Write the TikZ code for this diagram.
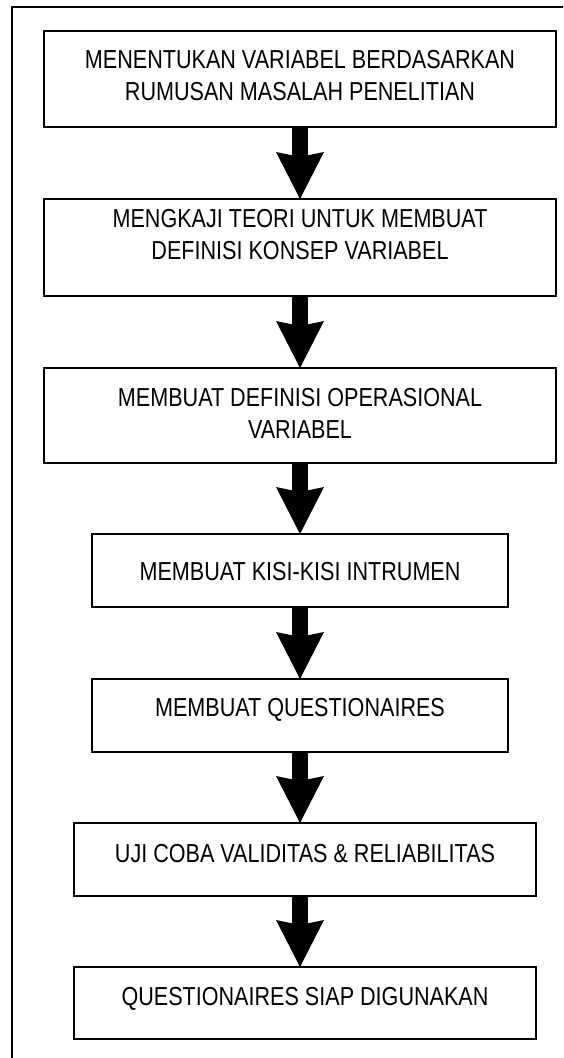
\documentclass[tikz,border=0pt]{standalone}
\usepackage{fontspec}
\setmainfont[FakeStretch=0.83]{Liberation Sans}
\usetikzlibrary{arrows.meta}

\begin{document}
\begin{tikzpicture}[x=1pt, y=-1pt,
  stepbox/.style={draw=black, line width=2pt, rectangle, inner sep=0pt, outer sep=0pt},
  steptext/.style={inner sep=0pt, anchor=base, align=center,
    font=\fontsize{26}{32}\selectfont},
  flow/.style={line width=16pt,
    -{Stealth[length=47pt, width=48pt, inset=5pt, line width=0pt]}}]

  % page frame (runs past the right and bottom edges)
  \useasboundingbox (0,0) rectangle (563,1058);
  \clip (0,0) rectangle (563,1058);
  \draw[line width=2.6pt] (12,7) rectangle (580,1080);

  % step boxes
  \node[stepbox, minimum width=512pt, minimum height=96pt] (b1) at (300,79) {};
  \node[stepbox, minimum width=512pt, minimum height=97pt] (b2) at (300,247.5) {};
  \node[stepbox, minimum width=512pt, minimum height=95pt] (b3) at (300,415.5) {};
  \node[stepbox, minimum width=416pt, minimum height=73pt] (b4) at (300,570.5) {};
  \node[stepbox, minimum width=416pt, minimum height=73pt] (b5) at (300,715.5) {};
  \node[stepbox, minimum width=462pt, minimum height=73pt] (b6) at (305,859.5) {};
  \node[stepbox, minimum width=462pt, minimum height=72pt] (b7) at (305,1003) {};

  % step labels (a two-line label sits on the baseline of its last line)
  \node[steptext] (t1) at (300,100) {MENENTUKAN VARIABEL BERDASARKAN\\RUMUSAN MASALAH PENELITIAN};
  \node[steptext] (t2) at (300,259) {MENGKAJI TEORI UNTUK MEMBUAT\\DEFINISI KONSEP VARIABEL};
  \node[steptext] (t3) at (300,438) {MEMBUAT DEFINISI OPERASIONAL\\VARIABEL};
  \node[steptext] (t4) at (300,580) {MEMBUAT KISI-KISI INTRUMEN};
  \node[steptext] (t5) at (300,716) {MEMBUAT QUESTIONAIRES};
  \node[steptext] (t6) at (305,862) {UJI COBA VALIDITAS \& RELIABILITAS};
  \node[steptext] (t7) at (305,1005) {QUESTIONAIRES SIAP DIGUNAKAN};

  % flow arrows
  \draw[flow] (b1.south) -- (b2.north);
  \draw[flow] (b2.south) -- (b3.north);
  \draw[flow] (b3.south) -- (b4.north);
  \draw[flow] (b4.south) -- (b5.north);
  \draw[flow] (b5.south) -- (b5.south |- b6.north);
  \draw[flow] (b6.south -| b5.south) -- (b5.south |- b7.north);
\end{tikzpicture}
\end{document}
